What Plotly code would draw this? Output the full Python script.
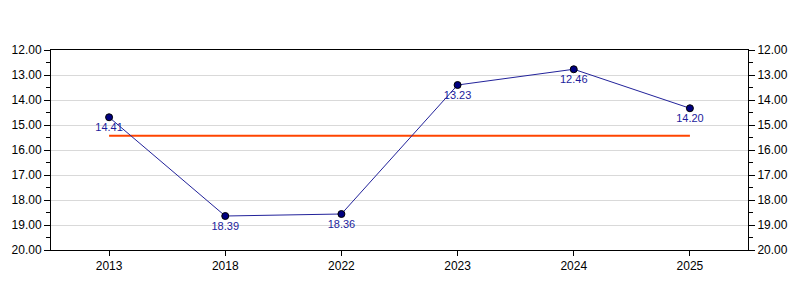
import plotly.graph_objects as go

years = ["2013", "2018", "2022", "2023", "2024", "2025"]
plot_values = [14.69, 18.64, 18.56, 13.40, 12.77, 14.33]
label_values = [14.41, 18.39, 18.36, 13.23, 12.46, 14.20]
avg_value = 15.43
y_ticks = [12, 13, 14, 15, 16, 17, 18, 19, 20]

fig = go.Figure()
fig.add_trace(go.Scatter(
    x=years, y=plot_values, yaxis="y2", mode="lines",
    line=dict(width=0), opacity=0, hoverinfo="skip", showlegend=False))
fig.add_trace(go.Scatter(
    x=[years[0], years[-1]], y=[avg_value, avg_value], mode="lines",
    line=dict(color="#ff4500", width=2), hoverinfo="skip", showlegend=False))
fig.add_trace(go.Scatter(
    x=years, y=plot_values, mode="lines+markers+text",
    text=[f"{v:.2f}" for v in label_values], textposition="bottom center",
    textfont=dict(family="Liberation Sans, Arial", size=11, color="#1c1c9c"),
    line=dict(color="#22229a", width=1),
    marker=dict(color="#000080", size=7, line=dict(color="#000000", width=1)),
    showlegend=False))

yax = dict(range=[20, 12], tickvals=y_ticks, ticktext=[f"{v:.2f}" for v in y_ticks],
           showgrid=True, gridcolor="#d9d9d9", gridwidth=1, zeroline=False,
           showline=True, linecolor="#000000", linewidth=1,
           ticks="outside", ticklen=6, tickcolor="#000000",
           minor=dict(ticks="outside", dtick=0.5, ticklen=4, tickcolor="#000000", showgrid=False),
           tickfont=dict(family="Liberation Sans, Arial", size=12, color="#000000"))

fig.update_layout(
    width=800, height=300,
    margin=dict(l=50, r=50, t=50, b=50),
    paper_bgcolor="#ffffff", plot_bgcolor="#ffffff",
    xaxis=dict(type="category", categoryorder="array", categoryarray=years,
               range=[-0.5, 5.5], showgrid=False, zeroline=False,
               showline=True, linecolor="#000000", linewidth=1, mirror=True,
               ticks="outside", ticklen=5, tickcolor="#000000",
               tickfont=dict(family="Liberation Sans, Arial", size=12, color="#000000")),
    yaxis=yax,
    yaxis2=dict(yax, overlaying="y", side="right", showgrid=False, matches="y"),
)
fig.write_html("out.html")
